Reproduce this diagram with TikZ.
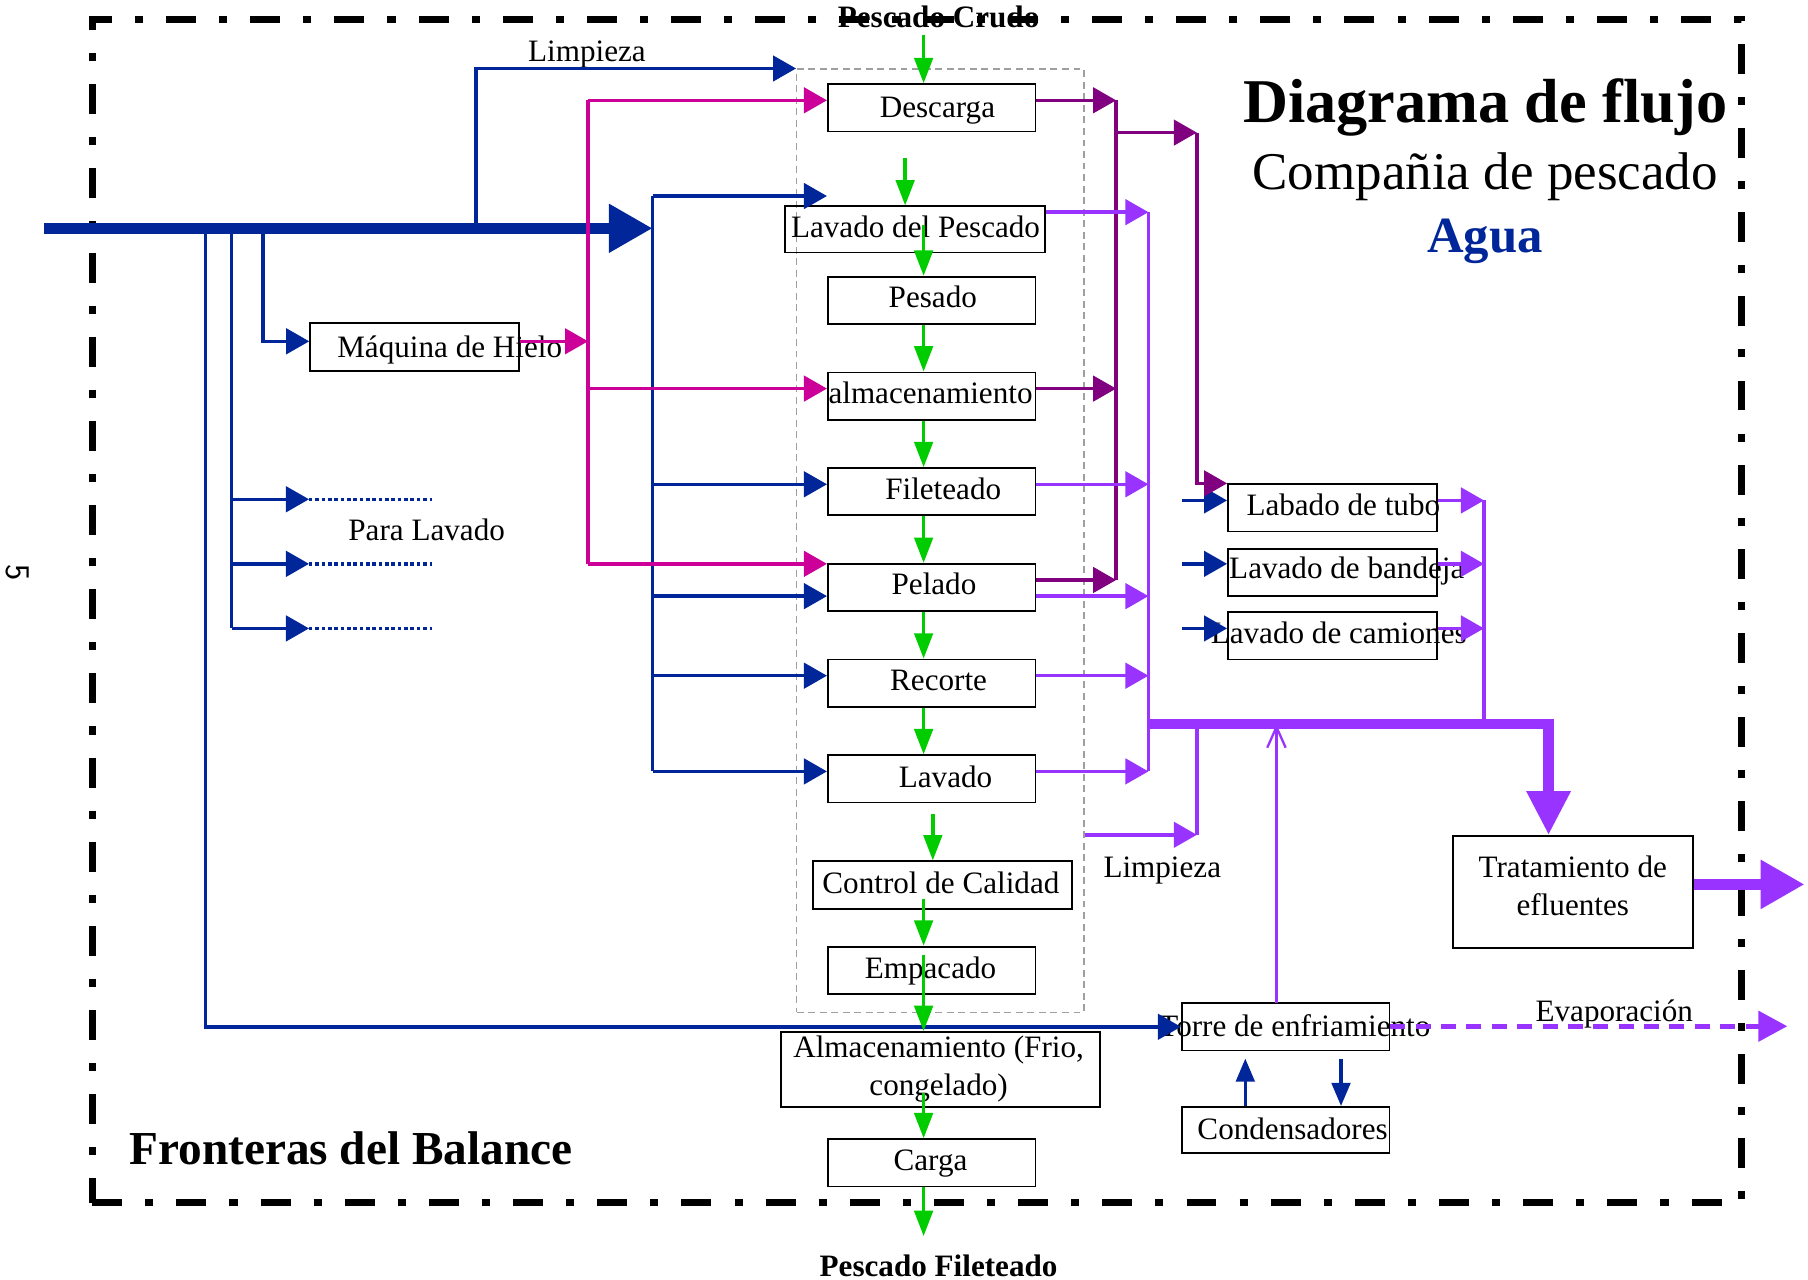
\documentclass[tikz,border=0pt]{standalone}
\usepackage{fontspec}
\setmainfont{Liberation Serif}
\usetikzlibrary{arrows.meta}
\definecolor{wblue}{RGB}{0,38,153}
\definecolor{wpink}{RGB}{204,0,153}
\definecolor{wplum}{RGB}{128,0,128}
\definecolor{wviolet}{RGB}{153,51,255}
\definecolor{wgreen}{RGB}{0,204,0}
\begin{document}
\begin{tikzpicture}[x=1pt,y=-1pt,
  txt/.style={font=\fontsize{27}{33}\selectfont, inner sep=0pt, align=center, anchor=base},
  proc/.style={draw=black, line width=1.6pt, minimum width=180pt, minimum height=41pt, inner sep=0pt},
  arrowend/.style={-{Triangle[length=20pt,width=22pt]}},
  feed/.style={wgreen, line width=3pt, -{Triangle[length=22pt,width=16pt]}},
  water/.style={wblue, line width=3pt},
  icew/.style={wpink, line width=3pt},
  storew/.style={wplum, line width=3pt},
  wastew/.style={wviolet, line width=3pt},
  bigflow/.style={line width=10pt, -{Triangle[length=38pt,width=40pt]}},
]
\useasboundingbox (0,0) rectangle (1568,1110);

% balance boundary
\node[draw=black, line width=6pt, dash pattern=on 26pt off 20pt on 7pt off 20pt,
      minimum width=1430pt, minimum height=1026pt, inner sep=0pt] (bound) at (795,530) {};
\node[rotate=-90, font=\sffamily\fontsize{30}{34}\selectfont, inner sep=0pt] (pagenum) at (15,497) {5};

% titles
\node[txt, font=\bfseries\fontsize{54}{60}\selectfont] (title) at (1288,106) {Diagrama de flujo};
\node[txt, font=\fontsize{46}{52}\selectfont] (company) at (1288,164) {Compañia de pescado};
\node[txt, font=\bfseries\fontsize{44}{50}\selectfont, text=wblue] (agua) at (1288,219) {Agua};
\node[txt, font=\bfseries\fontsize{41}{48}\selectfont, anchor=base west] (fronteras) at (112,1010) {Fronteras del Balance};

% process group
\node[draw=gray!75, line width=1.2pt, dash pattern=on 6pt off 4pt, minimum width=249pt, minimum height=818pt, inner sep=0pt] (grp) at (815.5,469) {};

% process boxes
\node[proc] (desc) at (808,93.5) {};
\node[proc, minimum width=225pt, minimum height=40pt] (lavp) at (793.5,199) {};
\node[proc] (pes) at (808,260.5) {};
\node[proc] (alm) at (808,343.5) {};
\node[proc] (fil) at (808,426.5) {};
\node[proc] (pel) at (808,509.5) {};
\node[proc] (rec) at (808,592.5) {};
\node[proc] (lav) at (808,675.5) {};
\node[proc, minimum width=225pt] (ctl) at (817.5,767.5) {};
\node[proc] (emp) at (808,841.5) {};
\node[proc, minimum width=277pt, minimum height=65pt] (alf) at (815.5,927.5) {};
\node[proc] (car) at (808,1008.5) {};
\node[proc, minimum width=181pt, minimum height=42pt] (mh) at (359.5,301) {};
\node[proc, minimum width=181pt] (tubo) at (1155.5,440.5) {};
\node[proc, minimum width=181pt] (band) at (1155.5,496.5) {};
\node[proc, minimum width=181pt] (cam) at (1155.5,551.5) {};
\node[proc, minimum width=208pt, minimum height=97pt] (trat) at (1364,773.5) {};
\node[proc] (torre) at (1115,890.5) {};
\node[proc, minimum height=40pt] (cond) at (1115,980) {};

% box texts (two-line texts are placed by the baseline of their last line)
\node[txt] (desc-t) at (813,102) {Descarga};
\node[txt] (lavp-t) at (794,206) {Lavado del Pescado};
\node[txt] (pes-t) at (809,267) {Pesado};
\node[txt] (alm-t) at (807,350) {almacenamiento};
\node[txt] (fil-t) at (818,433) {Fileteado};
\node[txt] (pel-t) at (810,516) {Pelado};
\node[txt] (rec-t) at (814,599) {Recorte};
\node[txt] (lav-t) at (820,683) {Lavado};
\node[txt] (ctl-t) at (816,775) {Control de Calidad};
\node[txt] (emp-t) at (807,849) {Empacado};
\node[txt] (alf-t) at (814,950) {Almacenamiento (Frio,\\congelado)};
\node[txt] (car-t) at (807,1015) {Carga};
\node[txt] (mh-t) at (390,310) {Máquina de Hielo};
\node[txt] (tubo-t) at (1165,447) {Labado de tubo};
\node[txt] (band-t) at (1168,502) {Lavado de bandeja};
\node[txt] (cam-t) at (1161,558) {Lavado de camiones};
\node[txt] (trat-t) at (1364,794) {Tratamiento de\\efluentes};
\node[txt] (torre-t) at (1123,899) {Torre de enfriamiento};
\node[txt] (cond-t) at (1121,988) {Condensadores};

% free labels
\node[txt, font=\bfseries\fontsize{27}{33}\selectfont] (crudo) at (814,24) {Pescado Crudo};
\node[txt, font=\bfseries\fontsize{27}{33}\selectfont] (filet) at (814,1107) {Pescado Fileteado};
\node[txt] (limp1) at (509,53) {Limpieza};
\node[txt] (limp2) at (1008,761) {Limpieza};
\node[txt] (paralav) at (370,469) {Para Lavado};
\node[txt] (evap) at (1400,886) {Evaporación};

% ---------- fresh water (blue) ----------
\coordinate (src) at (38,198);
\coordinate (mainTip) at (566,198);
\draw[wblue, bigflow] (src) -- (mainTip);

\coordinate (lmpA) at (413,198);
\draw[water, arrowend] (lmpA) |- (grp.north west);

\coordinate (busT) at (566,170);
\coordinate (busB) at (566,669);
\draw[water] (busT) -- (busB);
\draw[water, arrowend] (busT) -- (busT -| desc.west);
\coordinate (bFil) at (566,420);
\coordinate (bPel) at (566,517);
\coordinate (bRec) at (566,586);
\draw[water, arrowend] (bFil) -- (bFil -| fil.west);
\draw[water, arrowend] (bPel) -- (bPel -| pel.west);
\draw[water, arrowend] (bRec) -- (bRec -| rec.west);
\draw[water, arrowend] (busB) -- (busB -| lav.west);

\coordinate (l1) at (178,198);
\draw[water, arrowend] (l1) |- (torre.west);

\coordinate (l2) at (201,198);
\coordinate (l2b) at (201,545);
\draw[water] (l2) -- (l2b);
\coordinate (wa1) at (201,433);
\coordinate (wa2) at (201,489);
\coordinate (wa1e) at (268,433);
\coordinate (wa2e) at (268,489);
\coordinate (wa3e) at (268,545);
\coordinate (wa1d) at (375,433);
\coordinate (wa2d) at (375,489);
\coordinate (wa3d) at (375,545);
\draw[water, arrowend] (wa1) -- (wa1e);
\draw[water, arrowend] (wa2) -- (wa2e);
\draw[water, arrowend] (l2b) -- (wa3e);
\draw[water, dash pattern=on 3pt off 2.5pt] (wa1e) -- (wa1d);
\draw[water, dash pattern=on 3pt off 2.5pt] (wa2e) -- (wa2d);
\draw[water, dash pattern=on 3pt off 2.5pt] (wa3e) -- (wa3d);

\coordinate (l3) at (228,198);
\coordinate (l3b) at (228,296);
\draw[water, arrowend] (l3) -- (l3b) -- (l3b -| mh.west);

\coordinate (wTubo) at (1025,434);
\coordinate (wBand) at (1025,489);
\coordinate (wCam) at (1025,545);
\draw[water, arrowend] (wTubo) -- (wTubo -| tubo.west);
\draw[water, arrowend] (wBand) -- (wBand -| band.west);
\draw[water, arrowend] (wCam) -- (wCam -| cam.west);

\coordinate (cUp) at (1080,918);
\coordinate (cDn) at (1163,918);
\draw[water, -{Triangle[length=20pt,width=16pt]}] (cUp |- cond.north) -- (cUp);
\draw[water, -{Triangle[length=20pt,width=16pt]}] (cDn) -- (cDn |- cond.north);

% ---------- ice (pink) ----------
\coordinate (pkT) at (510,87);
\coordinate (pkB) at (510,489);
\coordinate (pkIce) at (510,296);
\coordinate (pkAlm) at (510,337);
\draw[icew] (pkT) -- (pkB);
\draw[icew, arrowend] (mh.east |- pkIce) -- (pkIce);
\draw[icew, arrowend] (pkT) -- (pkT -| desc.west);
\draw[icew, arrowend] (pkAlm) -- (pkAlm -| alm.west);
\draw[icew, arrowend] (pkB) -- (pkB -| pel.west);

% ---------- melt water (plum) ----------
\coordinate (plT) at (968,87);
\coordinate (plAlm) at (968,337);
\coordinate (plB) at (968,503);
\coordinate (plJ) at (968,115);
\coordinate (plK) at (1038,115);
\draw[storew] (plT) -- (plB);
\draw[storew, arrowend] (desc.east |- plT) -- (plT);
\draw[storew, arrowend] (alm.east |- plAlm) -- (plAlm);
\draw[storew, arrowend] (pel.east |- plB) -- (plB);
\draw[storew, arrowend] (plJ) -- (plK);
\draw[storew, arrowend] (plK) |- (tubo.north west);

% ---------- waste water (violet) ----------
\coordinate (vT) at (996,184);
\coordinate (vFil) at (996,420);
\coordinate (vPel) at (996,517);
\coordinate (vRec) at (996,586);
\coordinate (vB) at (996,669);
\coordinate (vJ) at (996,628);
\coordinate (vK) at (1343,628);
\draw[wastew] (vT) -- (vB);
\draw[wastew, arrowend] (lavp.east |- vT) -- (vT);
\draw[wastew, arrowend] (fil.east |- vFil) -- (vFil);
\draw[wastew, arrowend] (pel.east |- vPel) -- (vPel);
\draw[wastew, arrowend] (rec.east |- vRec) -- (vRec);
\draw[wastew, arrowend] (lav.east |- vB) -- (vB);

\coordinate (lmpB) at (1038,724);
\draw[wastew, arrowend] (grp.east |- lmpB) -- (lmpB);
\draw[wastew] (lmpB) -- (lmpB |- vJ);

\coordinate (rT) at (1287,434);
\coordinate (rBand) at (1287,489);
\coordinate (rCam) at (1287,545);
\coordinate (rB) at (1287,628);
\draw[wastew] (rT) -- (rB);
\draw[wastew, arrowend] (tubo.east |- rT) -- (rT);
\draw[wastew, arrowend] (band.east |- rBand) -- (rBand);
\draw[wastew, arrowend] (cam.east |- rCam) -- (rCam);

\coordinate (tUp) at (1107,870);
\draw[wviolet, line width=2pt, -{Straight Barb[length=18pt,width=16pt]}] (tUp) -- (tUp |- vJ);

\draw[wviolet, line width=9pt, line join=miter, -{Triangle[length=38pt,width=36pt]}] (vJ) -- (vK) -- (vK |- trat.north);

\coordinate (effOut) at (1565,767);
\draw[wviolet, bigflow] (trat.east |- effOut) -- (effOut);

\coordinate (evOut) at (1550,890);
\draw[wviolet, line width=4pt, dash pattern=on 13pt off 9pt, -{Triangle[length=25pt,width=26pt]}] (torre.east |- evOut) -- (evOut);

% ---------- product (green) ----------
\coordinate (gx) at (801,0);
\coordinate (rawIn) at (801,30);
\coordinate (g1) at (785,137);
\coordinate (g2) at (801,195);
\coordinate (g3) at (809,706);
\coordinate (g4) at (801,780);
\coordinate (g5) at (801,828);
\coordinate (g6) at (801,948);
\coordinate (fishOut) at (801,1072);
\draw[feed] (rawIn) -- (rawIn |- desc.north);
\draw[feed] (g1) -- (g1 |- lavp.north);
\draw[feed] (g2) -- (g2 |- pes.north);
\draw[feed] (pes.south -| gx) -- (alm.north -| gx);
\draw[feed] (alm.south -| gx) -- (fil.north -| gx);
\draw[feed] (fil.south -| gx) -- (pel.north -| gx);
\draw[feed] (pel.south -| gx) -- (rec.north -| gx);
\draw[feed] (rec.south -| gx) -- (lav.north -| gx);
\draw[feed] (g3) -- (g3 |- ctl.north);
\draw[feed] (g4) -- (g4 |- emp.north);
\draw[feed] (g5) -- (g5 |- alf.north);
\draw[feed] (g6) -- (g6 |- car.north);
\draw[feed] (car.south -| gx) -- (fishOut);
\end{tikzpicture}
\end{document}
